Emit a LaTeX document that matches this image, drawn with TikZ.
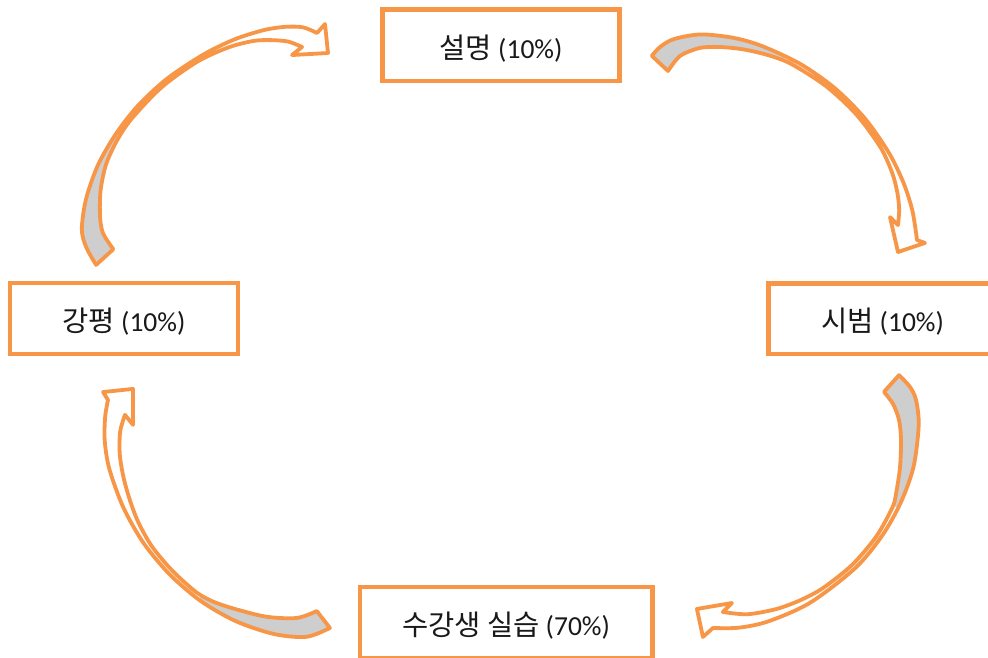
\documentclass[tikz,border=0pt]{standalone}
\usepackage{fontspec}
\setmainfont{Carlito}
\newfontfamily\kr{Noto Sans CJK KR}
\definecolor{org}{RGB}{247,150,70}
\definecolor{greyfill}{RGB}{206,206,206}
% #1 centre, #2 ribbon path (polar about centre), #3 wedge for the grey part
\newcommand\cvarrow[3]{%
  \begin{scope}[shift={#1}]
  \fill[white] #2;
  \begin{scope}\clip #3; \fill[greyfill] #2; \end{scope}
  \draw[arr] #2;
  \end{scope}}
\newcommand\ko[1]{{\fontsize{28.5}{32}\selectfont\kr #1}}
\begin{document}
\begin{tikzpicture}[x=1pt,y=-1pt,
  box/.style={draw=org, line width=4.5pt, fill=white, inner sep=0pt, text=black},
  lbl/.style={font=\fontsize{27.5}{32}\selectfont, text=black!90},
  arr/.style={draw=org, line width=3.8pt, line join=round}]
\useasboundingbox (0,0) rectangle (988,657);
\clip (0,0) rectangle (988,657);

% boxes
\node[box, minimum width=237pt, minimum height=71.5pt] (top) at (501,45.3) {};
\node[box, minimum width=228pt, minimum height=71pt] (left) at (124,318.5) {};
\node[box, minimum width=228pt, minimum height=70.5pt] (right) at (882.5,318.5) {};
\node[box, minimum width=292.5pt, minimum height=71pt] (bottom) at (506,622.5) {};

\node[lbl] (ttop) at (501,48.5) {\ko{설명} (10\%)};
\node[lbl] (tleft) at (124,321.5) {\ko{강평} (10\%)};
\node[lbl] (tright) at (882.5,321.5) {\ko{시범} (10\%)};
\node[lbl] (tbottom) at (506,625.5) {\ko{수강생 실습} (70\%)};

% arrow 1: left -> top
\cvarrow{(329,273)}
{plot[smooth] coordinates {(182:233) (186:244) (190:251) (197:254) (205:255) (213:254.5) (221:254) (230:253) (240:252) (248:252) (255:251.5) (260:250) (264:247) (267.14:240.3)}
 -- (269.08:249) -- (269.74:220) -- (260.37:221.1)
 -- plot[smooth] coordinates {(263.2:227.6) (260:235) (256:240) (252:244) (246:247) (238:249) (228:250) (218:250.5) (212:250) (206:248) (200:243) (194:236) (190:229.5) (186.3:217)} -- cycle}
{(0,0) -- (165:400) -- (213:400) -- cycle}

% arrow 2: top -> right
\cvarrow{(680,273)}
{plot[smooth] coordinates {(262.6:219) (265:227) (268.5:234) (275:239.5) (283:241.2) (290:241.3) (300:241.2) (310:241.1) (320:241) (330:241) (338:241) (345:240.6) (352.1:239.3)}
 -- (353:246.8) -- (354.5:219) -- (345.1:217.3)
 -- plot[smooth] coordinates {(347.6:223.2) (344:228) (340:231.5) (335:234.5) (328:236.6) (318:237.1) (308:237.1) (298:236.8) (292:235) (286:232.5) (280:229.5) (275:225.9) (270:217) (266.6:202.4)} -- cycle}
{(0,0) -- (250:400) -- (296:400) -- cycle}

% arrow 3: right -> bottom
\cvarrow{(701,414)}
{plot[smooth] coordinates {(-11.1:201.8) (-7.4:210.7) (-3.7:215.5) (3:218) (14:219) (24:218.5) (34:218.2) (45:218) (60:218) (72:218) (80:217) (86.8:214.3)}
 -- (89.5:223) -- (91.2:195) -- (80.7:191.5)
 -- plot[smooth] coordinates {(83.7:199.2) (77:205.5) (69:209) (62:211) (55:212.5) (45:213.5) (35:213.8) (26:213) (22:210.5) (15:206) (7.4:201.7) (1.7:198.1) (-3:192.3) (-6.9:184.3)} -- cycle}
{(0,0) -- (-40:400) -- (25.5:400) -- cycle}

% arrow 4: bottom -> left
\cvarrow{(334.5,409)}
{plot[smooth] coordinates {(91.2:219) (97:229.5) (105:233) (115:234) (125:234) (135:233.5) (145:233.3) (155:233) (165:233) (172:232) (178:229.5) (182.3:226.7)}
 -- (184.2:232.1) -- (185.7:202.5) -- (175.5:202.1)
 -- plot[smooth] coordinates {(178.4:209.6) (174:215.5) (168:219.5) (162:221.8) (156:224) (150:226.5) (143:228.5) (135:229) (127:229.5) (122:227.5) (116:223) (108:218.5) (100.2:212.3) (95:202.8)} -- cycle}
{(0,0) -- (125.5:400) -- (80:400) -- cycle}
\end{tikzpicture}
\end{document}
